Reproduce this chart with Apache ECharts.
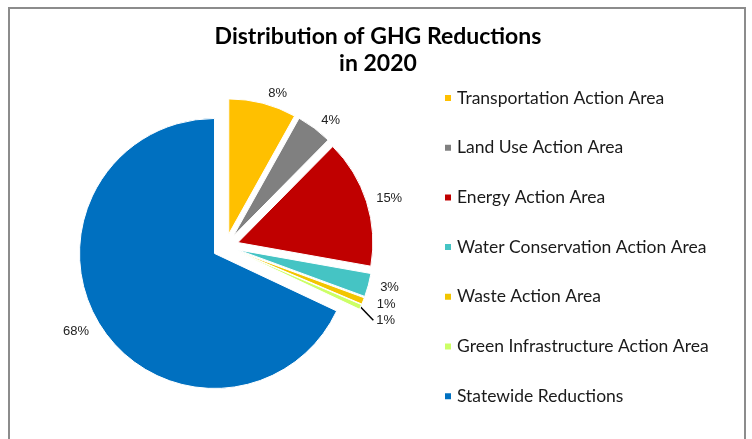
<!DOCTYPE html>
<html>
<head>
<meta charset="utf-8">
<script src="https://cdn.jsdelivr.net/npm/echarts@6/dist/echarts.min.js"></script>
<style>
html, body { margin: 0; padding: 0; background: #fff; }
#chart { width: 752px; height: 439px; }
</style>
</head>
<body>
<div id="chart"></div>
<script>
const categories = [
    'Transportation Action Area',
    'Land Use Action Area',
    'Energy Action Area',
    'Water Conservation Action Area',
    'Waste Action Area',
    'Green Infrastructure Action Area',
    'Statewide Reductions'
]
const shares = [8.1, 4.3, 15.4, 2.8, 0.8, 0.6, 68.0]
const colors = ['#FFC000', '#808080', '#C00000', '#45C4C4', '#F2C500', '#CCFF66', '#0070C0']

const chart = echarts.init(document.getElementById('chart'))

const data = categories.map((name, i) => {
    const item = { name: name, value: shares[i], selected: true, itemStyle: { color: colors[i] } }
    if (name === 'Green Infrastructure Action Area') {
        item.labelLine = { show: true, length: 14, lineStyle: { color: '#000', width: 1.5 } }
    }
    return item
})

chart.setOption({
    animation: false,
    color: colors,
    title: {
        text: 'Distribution of GHG Reductions\nin 2020',
        left: 373,
        textAlign: 'center',
        top: 18,
        textStyle: { fontFamily: 'Lato', fontWeight: 'bold', fontSize: 23, lineHeight: 27, color: '#000' }
    },
    legend: {
        orient: 'vertical',
        left: 438,
        top: 83,
        icon: 'rect',
        itemWidth: 8,
        itemHeight: 8,
        itemGap: 29.7,
        selectedMode: false,
        textStyle: { fontFamily: 'Lato', fontSize: 17.5, lineHeight: 20, color: '#1a1a1a', padding: [0, 0, 0, 0] },
        data: categories
    },
    graphic: [{
        type: 'rect',
        shape: { x: 9, y: 8, width: 736, height: 440 },
        style: { fill: 'none', stroke: '#8c8c8c', lineWidth: 2 },
        silent: true
    }],
    series: [{
        type: 'pie',
        center: [225.5, 246.5],
        radius: 135,
        startAngle: 90,
        clockwise: true,
        selectedMode: 'multiple',
        selectedOffset: 13,
        avoidLabelOverlap: true,
        itemStyle: { borderColor: '#fff', borderWidth: 1 },
        select: { itemStyle: { borderColor: '#fff', borderWidth: 1 } },
        emphasis: { disabled: true },
        label: {
            show: true,
            position: 'outside',
            formatter: (p) => Math.round(p.percent) + '%',
            fontFamily: 'Liberation Sans',
            fontSize: 13,
            color: '#222',
            distanceToLabelLine: 3
        },
        labelLine: { show: false, length: 10, length2: 0 },
        data: data
    }]
})
</script>
</body>
</html>
